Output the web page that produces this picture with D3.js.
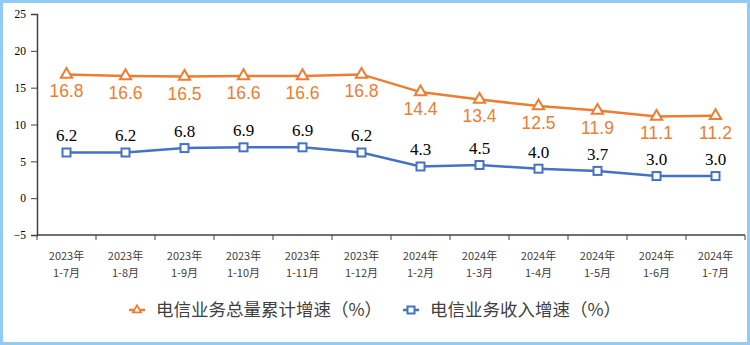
<!DOCTYPE html>
<html>
<head>
<meta charset="utf-8">
<script src="https://cdn.jsdelivr.net/npm/d3@7"></script>
<style>
  body { margin: 0; background: #fff; }
  #chart { width: 750px; height: 345px; }
</style>
</head>
<body>
<div id="chart"></div>
<script>
const categories = ['2023年|1-7月', '2023年|1-8月', '2023年|1-9月', '2023年|1-10月', '2023年|1-11月', '2023年|1-12月',
  '2024年|1-2月', '2024年|1-3月', '2024年|1-4月', '2024年|1-5月', '2024年|1-6月', '2024年|1-7月'];
const totalVolume = [16.8, 16.6, 16.5, 16.6, 16.6, 16.8, 14.4, 13.4, 12.5, 11.9, 11.1, 11.2];
const revenue = [6.2, 6.2, 6.8, 6.9, 6.9, 6.2, 4.3, 4.5, 4.0, 3.7, 3.0, 3.0];
const yTicks = [-5, 0, 5, 10, 15, 20, 25];
const seriesNames = ['电信业务总量累计增速（%）', '电信业务收入增速（%）'];

const orange = '#ED7D31';
const blue = '#4472C4';

const W = 750, H = 345;
const margin = { top: 14, right: 5, bottom: 110, left: 37 };
const width = W - margin.left - margin.right;
const height = H - margin.top - margin.bottom;

const svg = d3.select('#chart').append('svg')
  .attr('width', W).attr('height', H);

// border
svg.append('rect')
  .attr('x', 1.5).attr('y', 1.5)
  .attr('width', W - 3).attr('height', H - 3)
  .attr('fill', '#fff')
  .attr('stroke', '#92CBF3')
  .attr('stroke-width', 3);

const g = svg.append('g').attr('transform', `translate(${margin.left},${margin.top})`);

const x = d3.scaleBand().domain(categories).range([0, width]);
const y = d3.scaleLinear().domain([-5, 25]).range([height, 0]);

// y axis
const yAxis = g.append('g')
  .call(d3.axisLeft(y).tickValues(yTicks).tickSize(6).tickPadding(5));
yAxis.select('.domain').attr('stroke', '#404040').attr('stroke-width', 1.5);
yAxis.selectAll('.tick line').attr('stroke', '#404040');
yAxis.selectAll('text')
  .attr('font-family', '"Liberation Serif", serif')
  .attr('font-size', 11.5)
  .attr('fill', '#000');

// x axis with tick marks at band boundaries
const xg = g.append('g').attr('transform', `translate(0,${height})`);
xg.append('line')
  .attr('x1', 0).attr('x2', width)
  .attr('stroke', '#404040').attr('stroke-width', 1.5);
const bounds = categories.map(c => x(c)).concat([width]);
xg.selectAll('.xt').data(bounds).enter().append('line')
  .attr('x1', d => d).attr('x2', d => d)
  .attr('y1', 0).attr('y2', 5)
  .attr('stroke', '#404040');
const xl = xg.selectAll('.xl').data(categories).enter().append('text')
  .attr('transform', d => `translate(${x(d) + x.bandwidth() / 2},0)`)
  .attr('text-anchor', 'middle')
  .attr('font-family', '"Noto Sans CJK SC", sans-serif')
  .attr('font-size', 11)
  .attr('fill', '#404040');
xl.append('tspan').attr('x', 0).attr('y', 25).text(d => d.split('|')[0]);
xl.append('tspan').attr('x', 0).attr('y', 42).text(d => d.split('|')[1]);

const cx = i => x(categories[i]) + x.bandwidth() / 2;
const line = d3.line().x((d, i) => cx(i)).y(d => y(d));

// orange series
g.append('path').datum(totalVolume)
  .attr('d', line).attr('fill', 'none')
  .attr('stroke', orange).attr('stroke-width', 2.5);
const tri = d3.symbol().type(d3.symbolTriangle).size(55);
g.selectAll('.tri').data(totalVolume).enter().append('path')
  .attr('d', tri)
  .attr('transform', (d, i) => `translate(${cx(i)},${y(d)})`)
  .attr('fill', '#fff').attr('stroke', orange).attr('stroke-width', 2);
g.selectAll('.tl').data(totalVolume).enter().append('text')
  .attr('x', (d, i) => cx(i)).attr('y', d => y(d) + 23)
  .attr('text-anchor', 'middle')
  .attr('font-family', '"Liberation Sans", Arial, sans-serif')
  .attr('font-size', 17.5)
  .attr('fill', orange)
  .text(d => d.toFixed(1));

// blue series
g.append('path').datum(revenue)
  .attr('d', line).attr('fill', 'none')
  .attr('stroke', blue).attr('stroke-width', 2.5);
g.selectAll('.sq').data(revenue).enter().append('rect')
  .attr('x', (d, i) => cx(i) - 4).attr('y', d => y(d) - 4)
  .attr('width', 8).attr('height', 8)
  .attr('fill', '#fff').attr('stroke', blue).attr('stroke-width', 2);
g.selectAll('.bl').data(revenue).enter().append('text')
  .attr('x', (d, i) => cx(i)).attr('y', d => y(d) - 11)
  .attr('text-anchor', 'middle')
  .attr('font-family', '"Liberation Serif", serif')
  .attr('font-size', 17)
  .attr('fill', '#000')
  .text(d => d.toFixed(1));

// legend
const legend = svg.append('g').attr('transform', 'translate(0,310)');
const l1 = legend.append('g').attr('transform', 'translate(137,0)');
l1.append('line').attr('x1', -8).attr('x2', 8).attr('stroke', orange).attr('stroke-width', 2.5);
l1.append('path').attr('d', d3.symbol().type(d3.symbolTriangle).size(28))
  .attr('fill', '#fff').attr('stroke', orange).attr('stroke-width', 1.8);
legend.append('text').attr('x', 156).attr('y', 6)
  .attr('font-family', '"Noto Sans CJK SC", sans-serif')
  .attr('font-size', 17.5).attr('fill', '#404040')
  .text(seriesNames[0]);

const l2 = legend.append('g').attr('transform', 'translate(411,0)');
l2.append('line').attr('x1', -8).attr('x2', 8).attr('stroke', blue).attr('stroke-width', 2.5);
l2.append('rect').attr('x', -3.5).attr('y', -3.5).attr('width', 7).attr('height', 7)
  .attr('fill', '#fff').attr('stroke', blue).attr('stroke-width', 2);
legend.append('text').attr('x', 430).attr('y', 6)
  .attr('font-family', '"Noto Sans CJK SC", sans-serif')
  .attr('font-size', 17.5).attr('fill', '#404040')
  .text(seriesNames[1]);
</script>
</body>
</html>
